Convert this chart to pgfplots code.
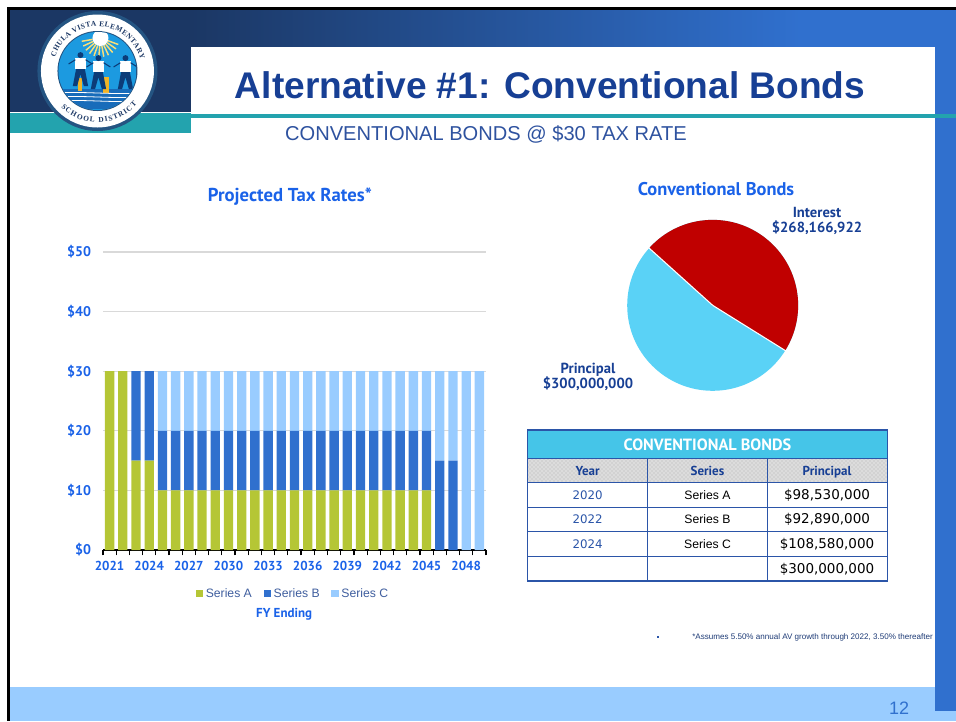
\documentclass[border=0pt]{standalone}
\usepackage{fontspec}
\usepackage{pgfplots}
\pgfplotsset{compat=1.18}
\usepackage{pgfplotstable}
\usetikzlibrary{decorations.text,patterns}
\setmainfont{Liberation Sans}
\newfontfamily\chartbold[BoldFont={PT Sans Bold}]{PT Sans}
\newfontfamily\dv{DejaVu Sans}
\newfontfamily\logof{Liberation Serif}
\newcommand\fs[1]{\fontsize{\the\dimexpr#1pt*3/4\relax}{\the\dimexpr#1pt*9/10\relax}\selectfont}
\newcommand\cb[1]{\chartbold\bfseries\fs{#1}}
\definecolor{navy}{HTML}{1B3764}
\definecolor{band}{HTML}{3070CE}
\definecolor{teal2}{HTML}{23A3AE}
\definecolor{lband}{HTML}{99CCFF}
\definecolor{titleblue}{HTML}{173F94}
\definecolor{chartblue}{HTML}{1A62E8}
\definecolor{serA}{HTML}{B5C635}
\definecolor{serB}{HTML}{3070CE}
\definecolor{serC}{HTML}{99CCFF}
\definecolor{tline}{HTML}{2B55A8}
\definecolor{thead}{HTML}{45C5E8}
\definecolor{ring}{HTML}{245482}
\definecolor{disc}{HTML}{1C9AE0}
\definecolor{water}{HTML}{186CBA}
\definecolor{ray}{HTML}{FADE78}
\definecolor{gold}{HTML}{F0B428}
\definecolor{kid}{HTML}{0C3C78}
\definecolor{gridc}{HTML}{D9D9D9}
\definecolor{legt}{HTML}{3F5E9E}
\definecolor{pieB}{HTML}{5AD2F6}
\definecolor{pieR}{HTML}{C00000}
\pgfplotstableread{
year A B C
2021 30 0 0
2022 30 0 0
2023 15 15 0
2024 15 15 0
2025 10 10 10
2026 10 10 10
2027 10 10 10
2028 10 10 10
2029 10 10 10
2030 10 10 10
2031 10 10 10
2032 10 10 10
2033 10 10 10
2034 10 10 10
2035 10 10 10
2036 10 10 10
2037 10 10 10
2038 10 10 10
2039 10 10 10
2040 10 10 10
2041 10 10 10
2042 10 10 10
2043 10 10 10
2044 10 10 10
2045 10 10 10
2046 0 15 15
2047 0 15 15
2048 0 0 30
2049 0 0 30
}\taxdata
\pgfmathsetmacro{\pieInterest}{268.166922}
\pgfmathsetmacro{\piePrincipal}{300.000000}
\pgfmathsetmacro{\pieSweep}{360*(\pieInterest/(\pieInterest+\piePrincipal))}
\pgfmathsetmacro{\pieEnd}{138-\pieSweep}
\begin{document}
\begin{tikzpicture}
\begin{scope}[x=.75pt,y=-.75pt]
\path[use as bounding box] (0,0) rectangle (956,721);
% slide frame
\fill[navy] (9.7,9.5) rectangle (191,112);
\shade[left color=navy,right color=band] (191,9.5) rectangle (800,50);
\fill[band] (799.5,9.5) rectangle (956,50);
\fill[black] (8,7) rectangle (956,9.5);
\fill[black] (7,7) rectangle (9.7,721);
\fill[white] (191,47) rectangle (935,114);
\fill[teal2] (9.7,112.5) rectangle (191,133);
\fill[teal2] (191,114) rectangle (956,118);
\fill[white] (35,111.5) rectangle (160,113);
\fill[lband] (9.7,687) rectangle (956,721);
\fill[band] (935,47) rectangle (956,711);
\fill[teal2] (935,114) rectangle (956,118);
% titles
\node[anchor=center,text=titleblue,font=\fs{37.1}\bfseries,inner sep=0] at (550,85.5) {Alternative \#1: Conventional Bonds};
\node[anchor=center,text=titleblue!90!white,font=\fs{20.1}, inner sep=0] at (486,134) {CONVENTIONAL BONDS @ \$30 TAX RATE};
% pie title and labels
\node[text=chartblue,inner sep=0,font=\cb{18.4}] at (716,189) {Conventional Bonds};
\node[text=titleblue,inner sep=0,align=center,font=\cb{14.6}] at (817,221) {Interest\\[-1.5pt]\$268,166,922};
\node[text=titleblue,inner sep=0,align=center,font=\cb{14.6}] at (588,377) {Principal\\[-1.5pt]\$300,000,000};
% table
\fill[white] (527.7,430) rectangle (887.3,581);
\fill[thead] (527.7,430) rectangle (887.3,458.3);
\fill[gray!35] (527.7,458.3) rectangle (887.3,482.3);
\fill[pattern=crosshatch dots,pattern color=white] (527.7,458.3) rectangle (887.3,482.3);
\draw[tline,line width=1pt] (527.7,430) rectangle (887.3,581);
\foreach \yy in {458.3,482.3,507.3,531.7,556.3}{\draw[tline,line width=1pt] (527.7,\yy) -- (887.3,\yy);}
\draw[tline,line width=1pt] (647.7,458.3) -- (647.7,581);
\draw[tline,line width=1pt] (767.3,458.3) -- (767.3,581);
\node[text=white,inner sep=0,font=\cb{16.3},anchor=base] at (707.5,450.5) {CONVENTIONAL BONDS};
\node[text=titleblue,inner sep=0,font=\cb{13},anchor=base] at (587.7,475) {Year};
\node[text=titleblue,inner sep=0,font=\cb{13},anchor=base] at (707.5,475) {Series};
\node[text=titleblue,inner sep=0,font=\cb{13},anchor=base] at (827,475) {Principal};
\foreach \yy/\a/\b in {495.5/2020/Series A,519.5/2022/Series B,544/2024/Series C}{
  \node[text=tline,inner sep=0,font=\dv\fs{11.8}] at (587.7,\yy) {\a};
  \node[text=black,inner sep=0,font=\fs{12.2}] at (707.5,\yy) {\b};
}
\node[inner sep=0,font=\dv\fs{13.5}] at (827,495.5) {\$98,530,000};
\node[inner sep=0,font=\dv\fs{13.5}] at (827,519.5) {\$92,890,000};
\node[inner sep=0,font=\dv\fs{13.5}] at (827,544) {\$108,580,000};
\node[inner sep=0,font=\dv\fs{13.5}] at (827,569) {\$300,000,000};
% footnote
\fill[tline] (657,636) rectangle (659,638);
\node[anchor=east,inner sep=0,text=tline!70!black,font=\fs{8.06}] at (933,637) {*Assumes 5.50\% annual AV growth through 2022, 3.50\% thereafter};
\node[inner sep=0,text=band,font=\fs{18}] at (899,708) {12};
\end{scope}
% logo
\begin{scope}[shift={(73.1pt,-53.25pt)},x=.75pt,y=.75pt]
\fill[ring] (0,0) circle (60);
\fill[white] (0,0) circle (56.5);
\fill[ring] (0,0) circle (40);
\begin{scope}
\clip (0,0) circle (39);
\fill[disc] (-40,-40) rectangle (40,40);
\fill[water] (-40,-38) rectangle (40,-18);
\foreach \a in {190,205,...,350}{\draw[ray,line width=1.1pt] (3,33) ++(\a:8) -- ++(\a:11);}
\fill[white] (3,33) circle (8);
\fill[gold] (-19,-20) rectangle (-15,-7);
\fill[gold] (6,-22) rectangle (12,-6);
\foreach \fx/\fy in {-17/7,1/4,28/4}{
\begin{scope}[shift={(\fx,\fy)},scale=.85]
\fill[kid] (-5,-5) -- (-9,-26) -- (-4,-26) -- (0,-12) -- (4,-26) -- (9,-26) -- (5,-5) -- cycle;
\fill[white] (-6,-6) rectangle (6,7);
\fill[kid] (0,10.5) circle (3.5);
\draw[kid,line width=.8pt] (-14,0) -- (-6,5) (6,5) -- (14,0);
\end{scope}}
\foreach \wy in {-22,-26,-30}{\draw[white,line width=.6pt] (-40,\wy) .. controls (-20,\wy+2) and (20,\wy-2) .. (40,\wy);}
\end{scope}
\path[decorate,decoration={text along path,text align={fit to path},text={|\logof\bfseries\fs{7.4}\color{navy}|CHULA VISTA ELEMENTARY}}]
  (162:44.5) arc[start angle=162,end angle=15,radius=44.5];
\path[decorate,decoration={text along path,text align={fit to path},text={|\logof\bfseries\fs{7.4}\color{navy}|SCHOOL DISTRICT}}]
  (225:51.5) arc[start angle=225,end angle=320,radius=51.5];
\end{scope}
% bar chart
\begin{axis}[
  at={(77.25pt,-412.5pt)},anchor=south west,scale only axis,
  width=287.25pt,height=223.5pt,
  ybar stacked,bar width=7pt,
  xmin=2020.5,xmax=2049.5,ymin=0,ymax=50,
  axis x line=bottom,axis y line=left,
  axis line style={-},
  y axis line style={draw=none},
  xtick={2021,2024,...,2048},
  xticklabels={2021,2024,2027,2030,2033,2036,2039,2042,2045,2048},
  minor xtick={2020.5,2021.5,...,2049.5},
  ytick={0,10,20,30,40,50},
  yticklabels={\$0,\$10,\$20,\$30,\$40,\$50},
  major tick length=0pt,
  minor tick length=4pt,
  tick align=outside,
  minor x tick style={black,line width=.9pt},
  ymajorgrids,
  grid style={draw=gridc,line width=.8pt},
  tick label style={text=chartblue},
  xticklabel style={font=\cb{13},yshift=-4.5pt},
  yticklabel style={font=\cb{14},xshift=-5.5pt},
  clip=false,
  every axis title shift=0pt,
  title={Projected Tax Rates*},
  title style={at={(rel axis cs:0.488,1.185)},anchor=center,text=chartblue,inner sep=0,font=\cb{18.7}},
  xlabel={FY Ending},
  xlabel style={at={(rel axis cs:0.473,-0.214)},anchor=center,text=chartblue,inner sep=0,font=\cb{13}},
  legend style={at={(rel axis cs:0.497,-0.147)},anchor=center,draw=none,fill=none,
    legend columns=3,font=\fs{12.2},text=legt,
    /tikz/every even column/.append style={column sep=6.8pt}},
  legend image code/.code={\fill[#1] (0pt,-2.7pt) rectangle (5.5pt,2.8pt);},
]
\addplot[draw=none,fill=serA] table[x=year,y=A] {\taxdata};
\addplot[draw=none,fill=serB] table[x=year,y=B] {\taxdata};
\addplot[draw=none,fill=serC] table[x=year,y=C] {\taxdata};
\draw[black,line width=1.1pt] (rel axis cs:0,0) -- (rel axis cs:1,0);
\legend{Series A,Series B,Series C}
\end{axis}
% pie
\begin{axis}[
  at={(534.5pt,-229pt)},anchor=center,scale only axis,
  width=128.25pt,height=128.25pt,hide axis,
  xmin=-1,xmax=1,ymin=-1,ymax=1,clip=false]
\fill[pieB] (axis cs:0,0) circle[radius=64.1pt];
\fill[pieR] (axis cs:0,0) -- ++(138:64.1pt)
  arc[start angle=138,delta angle=-\pieSweep,radius=64.1pt] -- cycle;
\draw[white,line width=.8pt] (axis cs:0,0) -- ++(138:64.6pt);
\draw[white,line width=.8pt] (axis cs:0,0) -- ++(\pieEnd:64.6pt);
\end{axis}
\end{tikzpicture}
\end{document}
